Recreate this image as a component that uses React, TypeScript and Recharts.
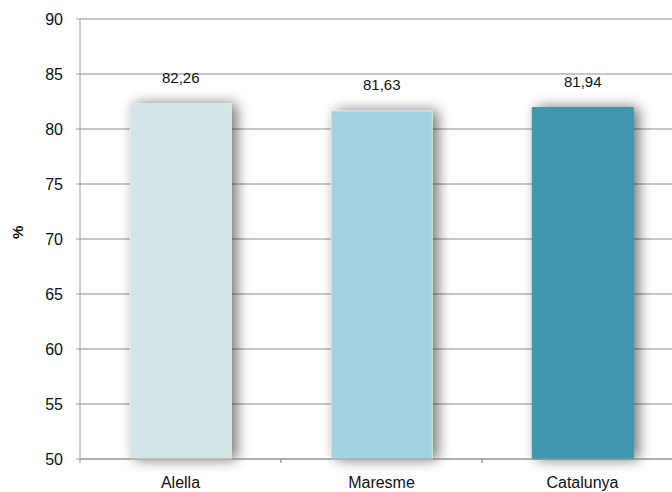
import { BarChart, Bar, Cell, CartesianGrid, LabelList, XAxis, YAxis } from "recharts";

const categories = ["Alella", "Maresme", "Catalunya"];
const values = [82.26, 81.63, 81.94];
const barColors = ["#d4e5e9", "#a4d2e1", "#3f97ae"];
const barEdges = ["#e6e9d8", "#c9e3de", "#3a8ea4"];
const yTicks = [50, 55, 60, 65, 70, 75, 80, 85, 90];

const data = categories.map((name, i) => ({ name, value: values[i] }));

const FONT = '"Liberation Sans", Arial, sans-serif';

function formatComma(v: number | string) {
  return Number(v).toFixed(2).replace(".", ",");
}

// category label plus small tick marks at the band edges
function CategoryTick(props: any) {
  const { x, y, payload } = props;
  const half = payload?.offset ?? 0;
  const axisY = y - 18;
  return (
    <g>
      <line x1={x - half} x2={x - half} y1={axisY} y2={axisY + 4} stroke="#9a9a9a" />
      <line x1={x + half} x2={x + half} y1={axisY} y2={axisY + 4} stroke="#9a9a9a" />
      <text
        x={x}
        y={y}
        dy="0.71em"
        textAnchor="middle"
        fill="#111"
        fontSize={16}
        fontFamily={FONT}
      >
        {payload.value}
      </text>
    </g>
  );
}

export default function App() {
  return (
    <div
      style={{
        position: "fixed",
        left: 0,
        top: 0,
        width: 672,
        height: 492,
        overflow: "hidden",
        background: "#fff",
        fontFamily: FONT,
      }}
    >
      <BarChart
        width={683}
        height={500}
        data={data}
        margin={{ top: 19, right: 0, bottom: 0, left: 0 }}
        barCategoryGap="25%"
      >
        <defs>
          <filter id="barShadow" x="-40%" y="-15%" width="180%" height="130%">
            <feGaussianBlur in="SourceAlpha" stdDeviation="7" />
            <feOffset dx="5" dy="0" result="blur" />
            <feComponentTransfer>
              <feFuncA type="linear" slope="0.55" />
            </feComponentTransfer>
            <feMerge>
              <feMergeNode />
              <feMergeNode in="SourceGraphic" />
            </feMerge>
          </filter>
        </defs>
        <CartesianGrid vertical={false} stroke="#8c8c8c" strokeWidth={1} />
        <XAxis
          dataKey="name"
          height={41}
          axisLine={{ stroke: "#9a9a9a" }}
          tickLine={false}
          tickMargin={12}
          tick={<CategoryTick />}
        />
        <YAxis
          domain={[50, 90]}
          ticks={yTicks}
          width={80}
          interval={0}
          axisLine={{ stroke: "#9a9a9a" }}
          tickLine={{ stroke: "#9a9a9a" }}
          tickSize={4}
          tickMargin={13}
          tick={{ fill: "#111", fontSize: 16, fontFamily: FONT }}
          label={{
            value: "%",
            angle: -90,
            position: "insideLeft",
            offset: 18,
            style: { fill: "#111", fontSize: 15, fontWeight: "bold", fontFamily: FONT },
          }}
        />
        <Bar dataKey="value" isAnimationActive={false} filter="url(#barShadow)">
          {data.map((d, i) => (
            <Cell key={d.name} fill={barColors[i]} stroke={barEdges[i]} strokeWidth={1} />
          ))}
          <LabelList
            dataKey="value"
            position="top"
            offset={21}
            formatter={formatComma}
            style={{ fill: "#111", fontSize: 15, fontFamily: FONT }}
          />
        </Bar>
      </BarChart>
    </div>
  );
}
